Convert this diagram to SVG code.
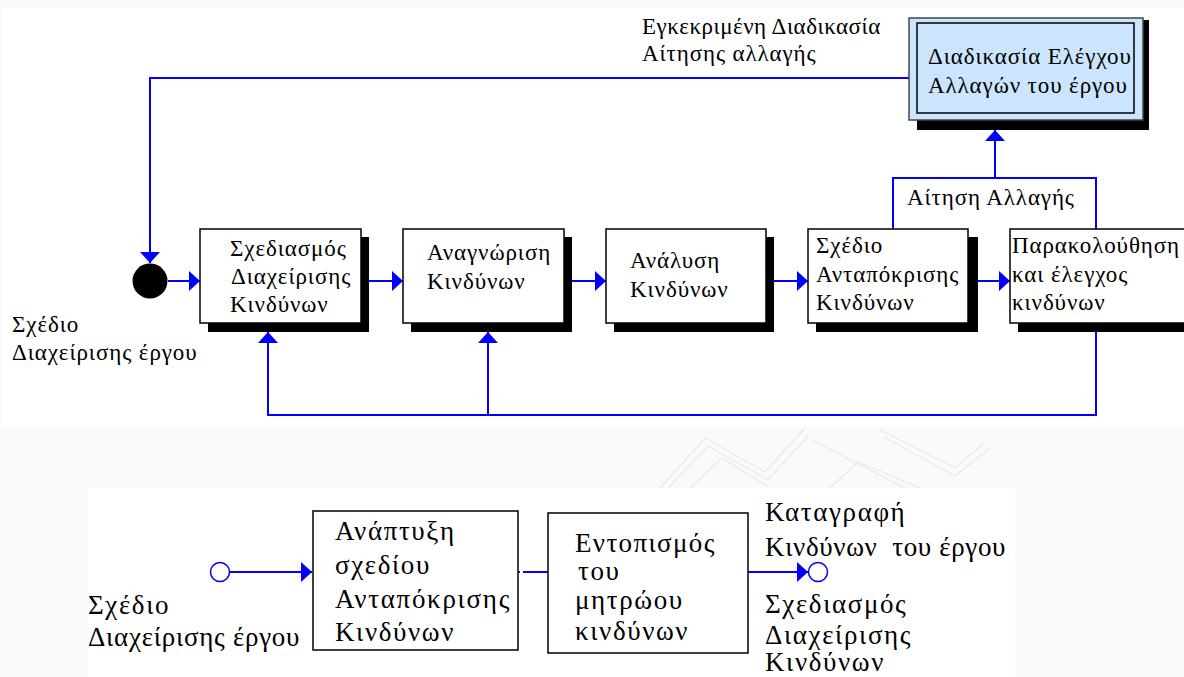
<svg xmlns="http://www.w3.org/2000/svg" width="1184" height="677" viewBox="0 0 1184 677">
  <defs>
    <style>
      .lbl { font-family: "Liberation Serif", "DejaVu Serif", serif; font-size: 23px; letter-spacing: 0.9px; fill: #000; }
      .big { font-size: 27px; letter-spacing: 1.6px; }
      .tight { letter-spacing: 0.5px; }
      .box { fill: #fff; stroke: #000; stroke-width: 1.5; }
      .shadow { fill: #000; }
      .wire { fill: none; stroke: #0000ff; stroke-width: 2; }
      .mark { fill: none; stroke: #e8e8e8; stroke-width: 1.2; }
    </style>
    <marker id="arrow" viewBox="0 0 11 20" refX="11" refY="10" markerWidth="11" markerHeight="20" markerUnits="userSpaceOnUse" orient="auto">
      <path d="M0,0 L11,10 L0,20 z" fill="#0000ff"/>
    </marker>
  </defs>

  <!-- page backgrounds -->
  <rect x="0" y="0" width="1184" height="677" fill="#fafafa"/>
  <rect x="2" y="8" width="1182" height="418" fill="#fff"/>
  <rect x="88" y="488" width="927" height="189" fill="#fff"/>

  <!-- faint background ornament -->
  <g id="ornament">
    <path class="mark" d="M660,488 L705,438 L765,472 L805,428"/>
    <path class="mark" d="M668,488 L708,446 L768,480 L808,436"/>
    <path class="mark" d="M690,488 L722,458 L770,488"/>
    <path class="mark" d="M812,440 L870,470 L905,488"/>
    <path class="mark" d="M830,488 L858,462 L920,488"/>
    <path class="mark" d="M880,430 L955,468 L985,442"/>
    <path class="mark" d="M884,437 L955,476 L990,448"/>
  </g>

  <!-- connectors -->
  <g id="connectors">
    <path class="wire" d="M909,78 H150 V263" marker-end="url(#arrow)"/>
    <path class="wire" d="M168,281 H200" marker-end="url(#arrow)"/>
    <path class="wire" d="M361,281 H403" marker-end="url(#arrow)"/>
    <path class="wire" d="M564,281 H606" marker-end="url(#arrow)"/>
    <path class="wire" d="M766,281 H808" marker-end="url(#arrow)"/>
    <path class="wire" d="M968,281 H1010" marker-end="url(#arrow)"/>
    <path class="wire" d="M1096,332 V415 H268 V332" marker-end="url(#arrow)"/>
    <path class="wire" d="M488,415 V332" marker-end="url(#arrow)"/>
    <path class="wire" d="M893,229 V178 H1096 V229"/>
    <path class="wire" d="M995,178 V130" marker-end="url(#arrow)"/>
    <path class="wire" d="M230,572 H312" marker-end="url(#arrow)"/>
    <path class="wire" d="M518,572 H520 M523,572 H548"/>
    <path class="wire" d="M748,572 H808" marker-end="url(#arrow)"/>
  </g>

  <!-- start / end points -->
  <g id="start-top">
    <circle cx="150" cy="281" r="17.5" fill="#000"/>
  </g>
  <g id="start-bottom">
    <circle cx="220" cy="572" r="9.5" fill="#fff" stroke="#0000ff" stroke-width="1.5"/>
  </g>
  <g id="end-bottom">
    <circle cx="818" cy="572" r="9.5" fill="#fff" stroke="#0000ff" stroke-width="1.5"/>
  </g>

  <!-- change control process -->
  <g id="change-control">
    <rect class="shadow" x="917" y="20" width="232" height="110"/>
    <rect x="909" y="18" width="234" height="102" fill="#cce5ff" stroke="#444" stroke-width="1.5"/>
    <rect x="917" y="23" width="217" height="90" fill="none" stroke="#000" stroke-width="1.5"/>
    <text class="lbl" x="928" y="64">Διαδικασία Ελέγχου</text>
    <text class="lbl" x="928" y="93">Αλλαγών του έργου</text>
  </g>

  <g id="plan-risk">
    <rect class="shadow" x="208" y="237" width="161" height="95"/>
    <rect class="box" x="200" y="229" width="161" height="94"/>
    <text class="lbl" x="230" y="256">Σχεδιασμός</text>
    <text class="lbl" x="231" y="284">Διαχείρισης</text>
    <text class="lbl" x="230" y="312">Κινδύνων</text>
  </g>

  <g id="identify-risk">
    <rect class="shadow" x="411" y="237" width="161" height="95"/>
    <rect class="box" x="403" y="229" width="161" height="94"/>
    <text class="lbl" x="427" y="260">Αναγνώριση</text>
    <text class="lbl" x="427" y="289">Κινδύνων</text>
  </g>

  <g id="analyse-risk">
    <rect class="shadow" x="614" y="237" width="160" height="95"/>
    <rect class="box" x="606" y="229" width="160" height="94"/>
    <text class="lbl" x="630" y="268">Ανάλυση</text>
    <text class="lbl" x="630" y="297">Κινδύνων</text>
  </g>

  <g id="response-plan">
    <rect class="shadow" x="816" y="237" width="162" height="95"/>
    <rect class="box" x="808" y="229" width="160" height="94"/>
    <text class="lbl" x="816" y="253">Σχέδιο</text>
    <text class="lbl" x="816" y="282">Ανταπόκρισης</text>
    <text class="lbl" x="816" y="310">Κινδύνων</text>
  </g>

  <g id="monitor-risk">
    <rect class="shadow" x="1018" y="237" width="180" height="95"/>
    <rect class="box" x="1010" y="229" width="180" height="94"/>
    <text class="lbl" x="1012" y="253">Παρακολούθηση</text>
    <text class="lbl" x="1012" y="282">και έλεγχος</text>
    <text class="lbl" x="1012" y="310">κινδύνων</text>
  </g>

  <g id="labels-top">
    <text class="lbl tight" x="642" y="34">Εγκεκριμένη Διαδικασία</text>
    <text class="lbl" x="642" y="61">Αίτησης αλλαγής</text>
    <text class="lbl" x="907" y="205">Αίτηση Αλλαγής</text>
    <text class="lbl" x="12" y="332">Σχέδιο</text>
    <text class="lbl" x="12" y="360">Διαχείρισης έργου</text>
  </g>

  <g id="develop-response">
    <rect class="box" x="313" y="511" width="205" height="139"/>
    <text class="lbl big" x="335" y="540">Ανάπτυξη</text>
    <text class="lbl big" x="335" y="574">σχεδίου</text>
    <text class="lbl big" x="335" y="608" textLength="176" lengthAdjust="spacing">Ανταπόκρισης</text>
    <text class="lbl big" x="335" y="641">Κινδύνων</text>
  </g>

  <g id="locate-register">
    <rect class="box" x="548" y="513" width="200" height="140"/>
    <text class="lbl big" x="575" y="552" textLength="141" lengthAdjust="spacing">Εντοπισμός</text>
    <text class="lbl big" x="578" y="580">του</text>
    <text class="lbl big" x="575" y="609">μητρώου</text>
    <text class="lbl big" x="575" y="640">κινδύνων</text>
  </g>

  <g id="labels-bottom">
    <text class="lbl big" x="88" y="614">Σχέδιο</text>
    <text class="lbl big" x="88" y="646" textLength="213" lengthAdjust="spacing">Διαχείρισης έργου</text>
    <text class="lbl big" x="765" y="521">Καταγραφή</text>
    <text class="lbl big" x="765" y="556" textLength="242" lengthAdjust="spacing" xml:space="preserve">Κινδύνων  του έργου</text>
    <text class="lbl big" x="765" y="613">Σχεδιασμός</text>
    <text class="lbl big" x="765" y="644">Διαχείρισης</text>
    <text class="lbl big" x="765" y="671">Κινδύνων</text>
  </g>
</svg>
